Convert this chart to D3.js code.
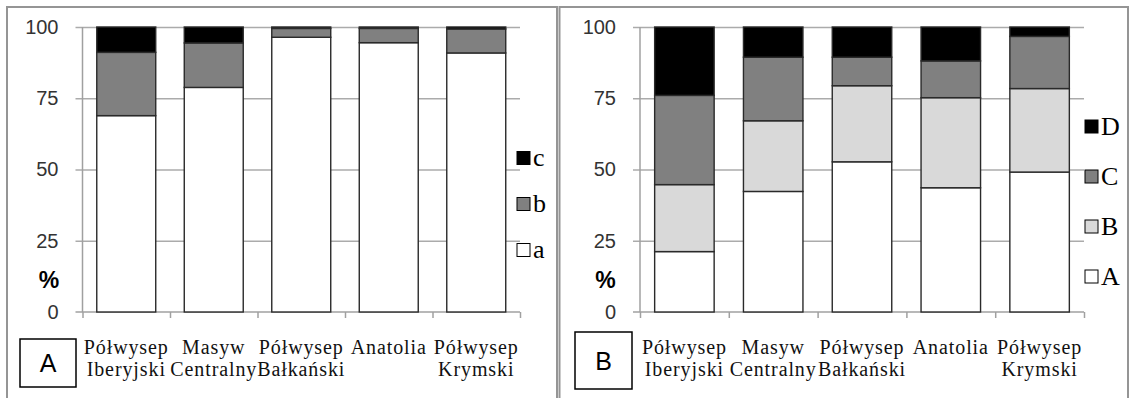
<!DOCTYPE html>
<html>
<head>
<meta charset="utf-8">
<script src="https://cdn.jsdelivr.net/npm/d3@7/dist/d3.min.js"></script>
<style>
  html, body { margin: 0; padding: 0; background: #fff; }
  svg { display: block; }
</style>
</head>
<body>
<script>
// Regions (x categories), shared by both panels
const categories = ["Półwysep Iberyjski", "Masyw Centralny", "Półwysep Bałkański", "Anatolia", "Półwysep Krymski"];
const yTicks = [0, 25, 50, 75, 100];

// Panel A: shares (%) of classes a, b, c
const seriesKeysA = ["a", "b", "c"];
const valuesA_a = [68.9, 78.8, 96.4, 94.5, 90.9];
const valuesA_b = [22.2, 15.6, 3.1, 5.0, 8.4];
const valuesA_c = [8.9, 5.6, 0.5, 0.5, 0.7];

// Panel B: shares (%) of classes A, B, C, D
const seriesKeysB = ["A", "B", "C", "D"];
const valuesB_A = [21.2, 42.3, 52.7, 43.6, 49.1];
const valuesB_B = [23.5, 24.8, 26.7, 31.6, 29.3];
const valuesB_C = [31.3, 22.3, 10.0, 12.9, 18.3];
const valuesB_D = [24.0, 10.6, 10.6, 11.9, 3.3];

const panelLabels = ["A", "B"];

const svg = d3.select("body").append("svg")
  .attr("width", 1130).attr("height", 398);

const SERIF = "'Liberation Serif', 'Times New Roman', serif";
const SANS = "'Liberation Sans', Arial, sans-serif";

function drawPanel(cfg) {
  const g = svg.append("g");

  // outer frame of the panel
  g.append("rect")
    .attr("x", cfg.frame.x).attr("y", cfg.frame.y)
    .attr("width", cfg.frame.w).attr("height", cfg.frame.h)
    .attr("fill", "#fff").attr("stroke", "#959595").attr("stroke-width", 2);

  const x = d3.scaleBand().domain(categories)
    .range([cfg.left, cfg.right])
    .paddingInner(cfg.pad).paddingOuter(cfg.pad / 2);
  const y = d3.scaleLinear().domain([0, 100]).range([312, 27]);
  const idx = d3.scaleLinear().domain([0, categories.length]).range([cfg.left, cfg.right]);

  // horizontal gridlines (extend slightly left of the axis as tick marks)
  const grid = g.append("g")
    .attr("transform", `translate(${cfg.left - 7},0)`)
    .call(d3.axisLeft(y).tickValues(yTicks.filter(t => t > 0))
      .tickSize(-(cfg.right - cfg.left + 7)).tickFormat(""));
  grid.select(".domain").remove();
  grid.selectAll(".tick line").attr("stroke", "#ababab").attr("stroke-width", 1.5);

  // y tick labels
  const yAx = g.append("g")
    .attr("transform", `translate(${cfg.left},0)`)
    .call(d3.axisLeft(y).tickValues(yTicks).tickSize(0).tickPadding(24));
  yAx.select(".domain").remove();
  yAx.selectAll("text")
    .attr("font-family", SANS).attr("font-size", 20).attr("fill", "#333");

  // vertical axis line
  g.append("line")
    .attr("x1", cfg.left).attr("x2", cfg.left)
    .attr("y1", y(100)).attr("y2", y(0))
    .attr("stroke", "#a0a0a0").attr("stroke-width", 1.5);

  // category axis with ticks at band boundaries
  const xAx = g.append("g")
    .attr("transform", `translate(0,${y(0)})`)
    .call(d3.axisBottom(idx).ticks(categories.length).tickSize(6).tickFormat("").tickSizeOuter(0));
  xAx.select(".domain").attr("stroke", "#a0a0a0").attr("stroke-width", 1.5)
    .attr("d", `M${cfg.left - 7},0H${cfg.right}`);
  xAx.selectAll(".tick line").attr("stroke", "#a0a0a0").attr("stroke-width", 1.5);

  // stacked bars
  const rows = categories.map((c, i) => {
    const r = { category: c };
    cfg.keys.forEach((k, j) => { r[k] = cfg.values[j][i]; });
    return r;
  });
  const stacked = d3.stack().keys(cfg.keys)(rows);
  const color = d3.scaleOrdinal().domain(cfg.keys).range(cfg.colors);

  g.append("g").selectAll("g")
    .data(stacked).join("g")
      .attr("fill", d => color(d.key))
    .selectAll("rect")
    .data(d => d).join("rect")
      .attr("x", d => x(d.data.category))
      .attr("width", x.bandwidth())
      .attr("y", d => y(d[1]))
      .attr("height", d => y(d[0]) - y(d[1]))
      .attr("stroke", "#2a2a2a").attr("stroke-width", 1.4);

  // category labels, wrapped after the first word
  const lab = g.append("g")
    .attr("font-family", SERIF).attr("font-size", 20)
    .attr("letter-spacing", "0.9px").attr("fill", "#111")
    .attr("text-anchor", "middle");
  categories.forEach(c => {
    const words = c.split(" ");
    const cx = x(c) + x.bandwidth() / 2;
    words.forEach((w, li) => {
      lab.append("text").attr("x", cx).attr("y", 354 + li * 22).text(w);
    });
  });

  // "%" axis caption
  g.append("text")
    .attr("x", cfg.pctX).attr("y", 288)
    .attr("text-anchor", "middle")
    .attr("font-family", SANS).attr("font-size", 23).attr("font-weight", "bold")
    .attr("fill", "#000").text("%");

  // legend (top entry = top of the stack)
  const legend = g.append("g");
  const keysRev = cfg.keys.slice().reverse();
  keysRev.forEach((k, i) => {
    const cy = cfg.legend.y0 + i * cfg.legend.dy;
    legend.append("rect")
      .attr("x", cfg.legend.x).attr("y", cy - cfg.legend.s / 2)
      .attr("width", cfg.legend.s).attr("height", cfg.legend.s)
      .attr("fill", color(k)).attr("stroke", "#000").attr("stroke-width", 1);
    legend.append("text")
      .attr("x", cfg.legend.x + cfg.legend.s + 3).attr("y", cy + 8)
      .attr("font-family", SERIF).attr("font-size", 26)
      .attr("fill", "#000").text(k);
  });

  // panel letter box
  g.append("rect")
    .attr("x", cfg.badge.x).attr("y", cfg.badge.y)
    .attr("width", cfg.badge.w).attr("height", cfg.badge.h)
    .attr("fill", "#fff").attr("stroke", "#000").attr("stroke-width", 1.5);
  g.append("text")
    .attr("x", cfg.badge.x + cfg.badge.w / 2)
    .attr("y", cfg.badge.y + cfg.badge.h / 2 + 9)
    .attr("text-anchor", "middle")
    .attr("font-family", SANS).attr("font-size", 25)
    .attr("fill", "#000").text(cfg.label);
}

drawPanel({
  label: panelLabels[0],
  keys: seriesKeysA,
  values: [valuesA_a, valuesA_b, valuesA_c],
  colors: ["#ffffff", "#808080", "#000000"],
  frame: { x: 7, y: 7, w: 550, h: 400 },
  left: 82.5, right: 520, pad: 0.326,
  pctX: 49,
  legend: { x: 517, y0: 158, dy: 46, s: 13 },
  badge: { x: 20, y: 339, w: 56, h: 48 }
});

drawPanel({
  label: panelLabels[1],
  keys: seriesKeysB,
  values: [valuesB_A, valuesB_B, valuesB_C, valuesB_D],
  colors: ["#ffffff", "#d9d9d9", "#808080", "#000000"],
  frame: { x: 559.5, y: 7, w: 568.5, h: 400 },
  left: 640, right: 1084, pad: 0.33,
  pctX: 605.5,
  legend: { x: 1085, y0: 126.5, dy: 50, s: 13 },
  badge: { x: 575, y: 332, w: 57, h: 57 }
});
</script>
</body>
</html>
